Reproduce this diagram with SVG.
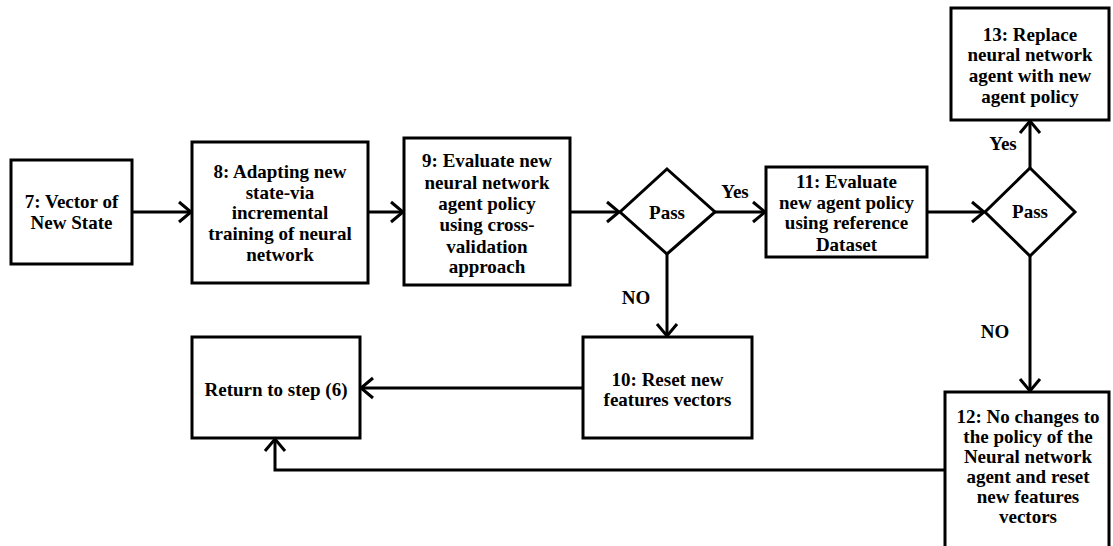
<svg xmlns="http://www.w3.org/2000/svg" width="1113" height="546" viewBox="0 0 1113 546">
  <style>
    .box { fill: #ffffff; stroke: #000000; stroke-width: 3; }
    .lbl { font-family: "Liberation Serif", "Times New Roman", serif; font-weight: bold; font-size: 19px; fill: #000000; text-anchor: middle; }
    .edge { fill: none; stroke: #000000; stroke-width: 3; marker-end: url(#chev); }
    .plain { fill: none; stroke: #000000; stroke-width: 3; }
  </style>
  <defs>
    <marker id="chev" markerUnits="userSpaceOnUse" viewBox="-15 -12 18 24" refX="0" refY="0" markerWidth="18" markerHeight="24" orient="auto" overflow="visible">
      <path d="M-12,-10 L0,0 L-12,10" fill="none" stroke="#000000" stroke-width="3" stroke-linejoin="miter"/>
    </marker>
  </defs>
  <rect width="1113" height="546" fill="#ffffff"/>

  <g id="connectors">
    <path class="edge" d="M132,212 L191,212"/>
    <path class="edge" d="M368,212 L403,212"/>
    <path class="edge" d="M570,212 L619,212"/>
    <path class="edge" d="M715,212 L765,212"/>
    <path class="edge" d="M927,212 L984,212"/>
    <path class="edge" d="M1030,168 L1030,121"/>
    <path class="edge" d="M667,254 L667,336"/>
    <path class="edge" d="M1030,256 L1030,391"/>
    <path class="edge" d="M583,388 L361,388"/>
    <path class="edge" d="M945,470 L275,470 L275,439"/>
    <text class="lbl" x="735" y="198">Yes</text>
    <text class="lbl" x="1003" y="150">Yes</text>
    <text class="lbl" x="636" y="304">NO</text>
    <text class="lbl" x="995" y="338">NO</text>
  </g>

  <g id="n7">
    <rect class="box" x="11" y="160" width="121" height="104"/>
    <text class="lbl" x="71.5" y="208">7: Vector of</text>
    <text class="lbl" x="71.5" y="229">New State</text>
  </g>

  <g id="n8">
    <rect class="box" x="192" y="142" width="176" height="141"/>
    <text class="lbl" x="280" y="178">8: Adapting new</text>
    <text class="lbl" x="280" y="199">state-via</text>
    <text class="lbl" x="280" y="219">incremental</text>
    <text class="lbl" x="280" y="240">training of neural</text>
    <text class="lbl" x="280" y="261">network</text>
  </g>

  <g id="n9">
    <rect class="box" x="404" y="138" width="166" height="147"/>
    <text class="lbl" x="487" y="167">9: Evaluate new</text>
    <text class="lbl" x="487" y="189">neural network</text>
    <text class="lbl" x="487" y="210">agent policy</text>
    <text class="lbl" x="487" y="231">using cross-</text>
    <text class="lbl" x="487" y="253">validation</text>
    <text class="lbl" x="487" y="273">approach</text>
  </g>

  <g id="d1">
    <polygon class="box" points="667,169 715,212 667,254 620,212"/>
    <text class="lbl" x="667" y="219">Pass</text>
  </g>

  <g id="n11">
    <rect class="box" x="766" y="167" width="161" height="90"/>
    <text class="lbl" x="846.5" y="188">11: Evaluate</text>
    <text class="lbl" x="846.5" y="209">new agent policy</text>
    <text class="lbl" x="846.5" y="229">using reference</text>
    <text class="lbl" x="846.5" y="251">Dataset</text>
  </g>

  <g id="d2">
    <polygon class="box" points="1030,168 1075,212 1030,256 985,212"/>
    <text class="lbl" x="1030" y="218">Pass</text>
  </g>

  <g id="n13">
    <rect class="box" x="951" y="8" width="158" height="112"/>
    <text class="lbl" x="1030" y="41">13: Replace</text>
    <text class="lbl" x="1030" y="61">neural network</text>
    <text class="lbl" x="1030" y="82">agent with new</text>
    <text class="lbl" x="1030" y="103">agent policy</text>
  </g>

  <g id="n10">
    <rect class="box" x="583" y="337" width="169" height="101"/>
    <text class="lbl" x="667.5" y="386">10: Reset new</text>
    <text class="lbl" x="667.5" y="406">features vectors</text>
  </g>

  <g id="n6">
    <rect class="box" x="192" y="337" width="168" height="101"/>
    <text class="lbl" x="276" y="396">Return to step (6)</text>
  </g>

  <g id="n12">
    <rect class="box" x="945" y="392" width="164" height="160"/>
    <text class="lbl" x="1028" y="423">12: No changes to</text>
    <text class="lbl" x="1028" y="443">the policy of the</text>
    <text class="lbl" x="1028" y="463">Neural network</text>
    <text class="lbl" x="1028" y="483">agent and reset</text>
    <text class="lbl" x="1028" y="503">new features</text>
    <text class="lbl" x="1028" y="523">vectors</text>
  </g>
</svg>
